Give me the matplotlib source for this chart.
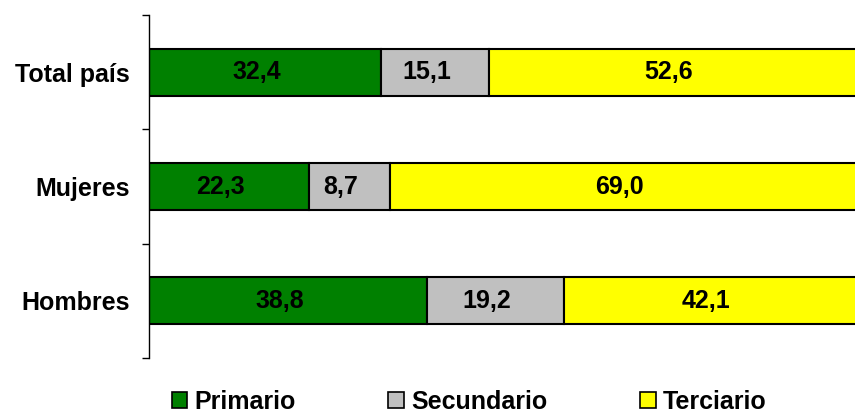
import matplotlib
matplotlib.use("Agg")
import matplotlib.pyplot as plt
import numpy as np

plt.rcParams["font.family"] = ["Liberation Sans", "DejaVu Sans"]

# datos (de abajo hacia arriba)
categorias = ["Hombres", "Mujeres", "Total país"]
primario = [38.8, 22.3, 32.4]
secundario = [19.2, 8.7, 15.1]
terciario = [42.1, 69.0, 52.6]
# en el original la barra gris de Mujeres se ve más larga que su rótulo (~11,3)
secundario_largo = [19.2, 11.3, 15.1]
series = ["Primario", "Secundario", "Terciario"]
colores = ["#008000", "#C0C0C0", "#FFFF00"]

fig = plt.figure(figsize=(8.55, 4.15), dpi=100)
# el eje llega un poco más allá del borde derecho, como en el original
ax = fig.add_axes([149 / 855, 57 / 415, 716 / 855, 343 / 415])

y = np.arange(len(categorias))
left = np.zeros(len(categorias))
for nombre, largos, rotulos, c in zip(series,
                                      [primario, secundario_largo, terciario],
                                      [primario, secundario, terciario], colores):
    bars = ax.barh(y, largos, left=left, height=0.41, color=c, edgecolor="black",
                   linewidth=1.5, label=nombre)
    txts = ax.bar_label(bars, labels=[f"{v:.1f}".replace(".", ",") for v in rotulos],
                        label_type="center", fontsize=18, fontweight="bold")
    for t in txts:
        t.xyann = (-6, 0)
    left += np.array(largos)

ax.set_xlim(0, 100)
ax.set_ylim(-0.5, 2.5)
ax.set_xticks([])
for s in ["top", "right", "bottom"]:
    ax.spines[s].set_visible(False)
ax.spines["left"].set_linewidth(1.0)

ax.set_yticks([-0.5, 0.5, 1.5, 2.5])
ax.set_yticklabels([])
ax.tick_params(axis="y", which="major", direction="out", length=5, width=1.0)
ax.set_yticks(y, minor=True)
ax.set_yticklabels(categorias, minor=True, fontsize=18, fontweight="bold")
ax.tick_params(axis="y", which="minor", length=0, pad=14)

leg = fig.legend(loc="lower left", bbox_to_anchor=(149 / 855, -0.052), ncol=3,
                 frameon=False, prop={"size": 18, "weight": "bold"},
                 handlelength=0.62, handleheight=0.62, handletextpad=0.3,
                 columnspacing=3.7)
for h in leg.legend_handles:
    h.set_linewidth(1.2)

plt.savefig("out.png", dpi=100)
plt.close()
